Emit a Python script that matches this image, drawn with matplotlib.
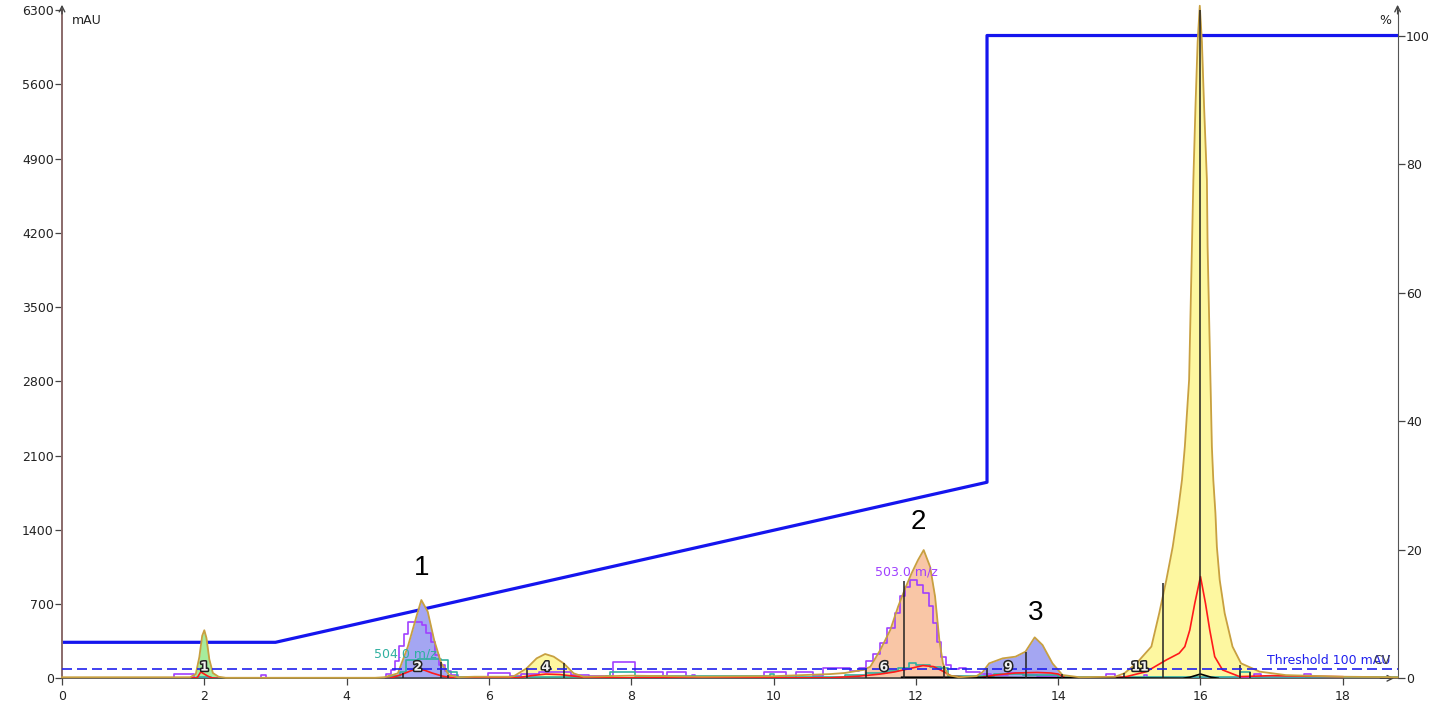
import numpy as np
import matplotlib as mplt
mplt.use('Agg')
import matplotlib.pyplot as plt
import matplotlib.patheffects as pe

mplt.rc('xtick', labelsize=9)
mplt.rc('ytick', labelsize=9)

# UV trace (mAU)
uv_t = [0, 1.8, 1.88, 1.93, 1.97, 2.0, 2.03, 2.07, 2.12, 2.2, 2.3, 4.4, 4.53, 4.72, 4.86, 4.98, 5.05, 5.14, 5.23, 5.33,
        5.44, 5.56, 5.8, 6.3, 6.35, 6.53, 6.67, 6.79, 6.91, 7.05, 7.19, 7.33, 8.0, 9.0, 10.0, 10.8, 11.0, 11.27, 11.36,
        11.5, 11.64, 11.75, 11.85, 11.94, 12.03, 12.11, 12.2, 12.27, 12.33, 12.38, 12.45, 12.6, 12.85, 12.94, 13.03,
        13.22, 13.4, 13.54, 13.67, 13.78, 13.92, 14.06, 14.3, 14.8, 14.93, 15.1, 15.31, 15.42, 15.52, 15.61, 15.68,
        15.74, 15.78, 15.81, 15.84, 15.86, 15.88, 15.9, 15.93, 15.96, 15.99, 16.02, 16.05, 16.09, 16.1, 16.12, 16.14,
        16.16, 16.18, 16.21, 16.23, 16.27, 16.34, 16.45, 16.57, 16.83, 17.2, 18.0, 18.77]
uv_v = [10, 10, 40, 200, 400, 453, 380, 180, 50, 15, 5, 5, 10, 47, 298, 580, 738, 628, 361, 141,
        31, 10, 15, 15, 20, 94, 188, 229, 204, 141, 47, 15, 25, 15, 20, 40, 50, 80, 110,
        267, 455, 675, 848, 990, 1115, 1209, 1052, 770, 361, 141, 31, 10, 20, 60, 141,
        188, 204, 251, 386, 314, 141, 31, 10, 15, 47, 141, 299, 613, 927, 1241, 1556,
        1870, 2184, 2499, 2813, 3442, 4070, 4699, 5400, 6000, 6340, 6000, 5400, 4699, 4070, 3442, 2813,
        2184, 1870, 1556, 1241, 927, 613, 299, 141, 63, 30, 15, 10]

# peak fill ranges and colours
peak_ranges = [(1.8, 2.3), (4.53, 5.56), (6.35, 7.33), (11.27, 12.45), (12.94, 14.06), (14.93, 16.83)]
peak_colors = ['#a6ec9c', '#a4a6f2', '#fdf7a0', '#f9c6a6', '#a4a6f2', '#fdf7a0']

# MS 503 m/z (purple, step)
ms503_t = [0, 1.57, 1.86, 2.8, 2.86, 4.55, 4.62, 4.68, 4.74, 4.8, 4.86, 5.06, 5.12, 5.18, 5.24, 5.3, 5.38, 5.46,
           5.56, 5.98, 6.3, 6.45, 6.7, 7.15, 7.4, 7.75, 8.05, 8.45, 8.5, 8.77, 8.85, 8.9, 9.87, 10.17, 10.32, 10.56,
           10.7, 11.07, 11.2, 11.3, 11.4, 11.5, 11.6, 11.7, 11.78, 11.85, 11.92, 12.02, 12.1, 12.18, 12.24, 12.3,
           12.36, 12.42, 12.5, 12.6, 12.7, 12.9, 13.05, 13.3, 13.5, 13.7, 14.0, 14.67, 14.8, 15.2, 15.25, 16.75,
           16.85, 17.45, 17.55, 18.77]
ms503_v = [0, 41, 0, 30, 0, 40, 80, 160, 300, 420, 530, 500, 430, 340, 220, 130, 70, 30,
           0, 47, 20, 40, 60, 35, 20, 157, 55, 20, 55, 0, 30, 0, 55, 0, 55, 20,
           95, 65, 100, 160, 230, 330, 470, 620, 780, 860, 930, 880, 800, 680, 520, 340,
           200, 130, 90, 100, 60, 40, 30, 50, 30, 20, 0, 40, 0, 30, 0, 40,
           0, 40, 0, 0]

# MS 504 m/z (teal, step)
ms504_t = [0, 1.9, 2.1, 4.6, 4.75, 4.84, 5.0, 5.33, 5.42, 5.55, 7.65, 7.7, 8.0, 8.05, 9.95, 10.0, 11.0, 11.3, 11.6,
           11.75, 11.9, 12.0, 12.2, 12.35, 12.45, 13.1, 13.5, 14.0, 16.55, 16.7, 18.77]
ms504_v = [0, 10, 0, 20, 60, 170, 180, 170, 60, 10, 20, 60, 60, 20, 40, 10, 30, 50, 70,
           100, 140, 130, 110, 100, 20, 40, 30, 10, 60, 10, 0]

# second UV wavelength (red)
red_t = [0, 1.9, 1.95, 2.0, 2.05, 2.1, 2.2, 4.6, 4.75, 4.9, 5.0, 5.1, 5.2, 5.35, 5.5, 6.4, 6.6, 6.8, 7.0, 7.2, 7.4,
         10.8, 11.2, 11.5, 11.7, 11.9, 12.1, 12.25, 12.4, 12.5, 12.9, 13.1, 13.4, 13.7, 13.9, 14.0, 14.1, 14.8, 14.96,
         15.24, 15.52, 15.7, 15.78, 15.85, 15.92, 16.0, 16.07, 16.13, 16.2, 16.31, 16.55, 17.0, 18.0]
red_v = [0, 5, 60, 40, 20, 5, 0, 0, 30, 70, 90, 75, 50, 20, 5, 5, 25, 40, 35, 20, 5,
         5, 20, 40, 60, 90, 120, 110, 60, 20, 5, 30, 50, 55, 50, 40, 5, 5, 16,
         63, 173, 236, 299, 456, 707, 959, 707, 456, 204, 79, 16, 25, 15]

# black fraction trace near baseline
blk_t = [11.8, 12.3, 15.75, 15.85, 15.95, 16.0, 16.05, 16.15, 16.25]
blk_v = [10, 10, 0, 10, 30, 40, 30, 10, 0]

# fraction marks
frac_t = [4.79, 5.33, 5.43, 6.53, 7.05, 11.3, 11.83, 12.4, 13.0, 13.55, 14.05, 14.93, 15.48, 16.0, 16.55, 16.69]
frac_h = [50, 157, 30, 94, 141, 100, 920, 120, 100, 250, 40, 50, 896, 6340, 126, 60]

# gradient (%)
grad_t = [0, 3.0, 13.0, 13.0, 18.77]
grad_v = [5.6, 5.6, 30.5, 100, 100]

peak_lab = ['1', '2', '4', '6', '9', '11']
peak_lab_t = [2.0, 5.0, 6.8, 11.55, 13.3, 15.15]
big_lab = ['1', '2', '3']
big_lab_t = [5.06, 12.03, 13.68]
big_lab_y = [1040, 1470, 620]
threshold = 90

fig = plt.figure(figsize=(14.42, 7.14), dpi=100)
ax = fig.add_axes([0.0430, 0.0500, 0.9262, 0.936])
ax2 = ax.twinx()
ax.set_zorder(2)
ax.patch.set_visible(False)

uv_t_a = np.array(uv_t)
uv_v_a = np.array(uv_v)
for (a, b), c in zip(peak_ranges, peak_colors):
    m = (uv_t_a >= a) & (uv_t_a <= b)
    ax.fill_between(uv_t_a[m], 0, uv_v_a[m], color=c, lw=0, zorder=1)

ax.step(ms503_t, ms503_v, where='post', c='#a040ff', lw=1.2, zorder=3)
ax.step(ms504_t, ms504_v, where='post', c='#30b0a0', lw=1.2, zorder=3)
ax.plot(red_t, red_v, c='#ff1a1a', lw=1.2, zorder=4)
ax.plot(uv_t, uv_v, c='#c8a040', lw=1.3, zorder=5, clip_on=False)
ax.plot(blk_t, blk_v, c='k', lw=1.2, zorder=4)
ax.vlines(frac_t, 0, frac_h, colors='#222222', lw=1.1, zorder=6)
ax.axhline(threshold, ls=(0, (6, 3)), c='#2020ee', lw=1.2, zorder=6)

ax2.plot(grad_t, grad_v, c='#1515ee', lw=2.3, zorder=2)

ax.set_xlim(0, 18.77)
ax.set_ylim(0, 6300)
ax2.set_ylim(0, 103.97)
ax.set_xticks(np.arange(0, 19, 2))
ax.set_yticks(np.arange(0, 6301, 700))
ax2.set_yticks(np.arange(0, 101, 20))

for s in ['top']:
    ax.spines[s].set_visible(False)
    ax2.spines[s].set_visible(False)
ax2.spines['left'].set_visible(False)
ax2.spines['bottom'].set_visible(False)
ax.spines['right'].set_visible(False)
ax.spines['left'].set_color('#8a6a6a')
ax.spines['left'].set_linewidth(1.4)
ax.spines['bottom'].set_color('#444444')
ax.spines['bottom'].set_linewidth(1.2)
ax2.spines['right'].set_color('#555555')
ax.tick_params(axis='both', colors='#444444', labelcolor='#222222', length=5, width=0.9)
ax2.tick_params(axis='y', colors='#444444', labelcolor='#222222', length=5, width=0.9, pad=1)
ax.tick_params(axis='y', pad=1)

# axis arrows
ax.annotate('', xy=(0, 1.012), xytext=(0, 0.99), xycoords='axes fraction',
            arrowprops=dict(arrowstyle='->', color='#444444', lw=1.0))
ax.annotate('', xy=(1.0, 1.012), xytext=(1.0, 0.99), xycoords='axes fraction',
            arrowprops=dict(arrowstyle='->', color='#444444', lw=1.0))
ax.annotate('', xy=(0.9995, 0), xytext=(0.985, 0), xycoords='axes fraction',
            arrowprops=dict(arrowstyle='->', color='#444444', lw=1.0))

ax.text(0.0075, 0.985, 'mAU', transform=ax.transAxes, fontsize=9, color='#222222', va='center', ha='left')
ax.text(0.9905, 0.985, '%', transform=ax.transAxes, fontsize=9, color='#222222', va='center', ha='center')

for l, t in zip(peak_lab, peak_lab_t):
    ax.text(t, 105, l, fontsize=9, fontweight='bold', color='#f2f2f2', ha='center', va='center', zorder=8,
            path_effects=[pe.withStroke(linewidth=2.2, foreground='#222222')])
for l, t, y in zip(big_lab, big_lab_t, big_lab_y):
    ax.text(t, y, l, fontsize=20, family='Liberation Sans', color='k', ha='center', va='center', zorder=8)

ax.text(4.38, 230, '504.0 m/z', fontsize=9, color='#30b0a0', ha='left', va='center', zorder=7)
ax.text(11.43, 1000, '503.0 m/z', fontsize=9, color='#a040ff', ha='left', va='center', zorder=7)
# the CV label sits on top of the threshold text in the original too
ax.text(16.93, 170, 'Threshold 100 mAU', fontsize=9, color='#2020ee', ha='left', va='center', zorder=7)
ax.text(18.43, 170, 'CV', fontsize=9, color='#444444', ha='left', va='center', zorder=7)

plt.savefig('out.png', dpi=100)
